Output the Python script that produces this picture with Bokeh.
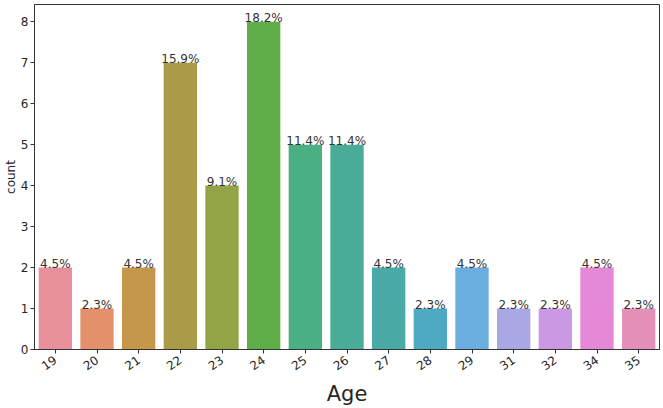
from bokeh.plotting import figure
from bokeh.models import ColumnDataSource, FactorRange, Range1d, FixedTicker
from bokeh.embed import file_html
from bokeh.resources import INLINE
from bokeh.core.properties import value

ages = ["19", "20", "21", "22", "23", "24", "25", "26", "27", "28", "29", "31", "32", "34", "35"]
counts = [2, 1, 2, 7, 4, 8, 5, 5, 2, 1, 2, 1, 1, 2, 1]
colors = ["#e8909c", "#e4906a", "#c4974a", "#aa9b48", "#92a546", "#5fae4a", "#4aaf82",
          "#48ac98", "#4aaaa6", "#4eaac0", "#6aaee0", "#aaa8e4", "#cb98e4", "#e688d8", "#e490b8"]

total = sum(counts)
labels = ["%.1f%%" % (100.0 * c / total) for c in counts]

src = ColumnDataSource(dict(x=ages, top=counts, color=colors, label=labels))

p = figure(width=663, height=408, x_range=FactorRange(*ages, range_padding=0),
           y_range=Range1d(0, 8.42), output_backend="svg", toolbar_location=None,
           min_border_left=33, min_border_right=4, min_border_top=4, min_border_bottom=10)

p.vbar(x="x", top="top", width=0.8, fill_color="color", line_color=None, source=src)
p.text(x="x", y="top", text="label", source=src, text_align="center",
       text_baseline="bottom", y_offset=3, text_font_size="12px",
       text_color="#333333", text_font=value("DejaVu Sans"))

p.xgrid.visible = False
p.ygrid.visible = False
p.outline_line_color = "#333333"
p.outline_line_width = 1

p.yaxis.ticker = FixedTicker(ticks=list(range(0, 9)))
p.yaxis.axis_label = "count"
p.yaxis.axis_label_standoff = 0
p.yaxis.axis_label_text_font_style = "normal"
p.yaxis.axis_label_text_font_size = "12px"
p.yaxis.axis_label_text_font = "DejaVu Sans"
p.yaxis.major_label_standoff = 2

p.xaxis.axis_label = "Age"
p.xaxis.axis_label_text_font_style = "normal"
p.xaxis.axis_label_text_font_size = "21px"
p.xaxis.axis_label_text_font = "DejaVu Sans"
p.xaxis.axis_label_standoff = 4
p.xaxis.major_label_orientation = 0.6
p.xaxis.major_label_standoff = 5

for ax in (p.xaxis, p.yaxis):
    ax.axis_line_color = "#333333"
    ax.major_tick_line_color = "#333333"
    ax.major_tick_out = 4
    ax.major_tick_in = 0
    ax.minor_tick_line_color = None
    ax.major_label_text_font = "DejaVu Sans"
    ax.major_label_text_font_size = "12px"
    ax.major_label_text_color = "#262626"
    ax.axis_label_text_color = "#262626"

open("out.html", "w").write(file_html(p, INLINE))
